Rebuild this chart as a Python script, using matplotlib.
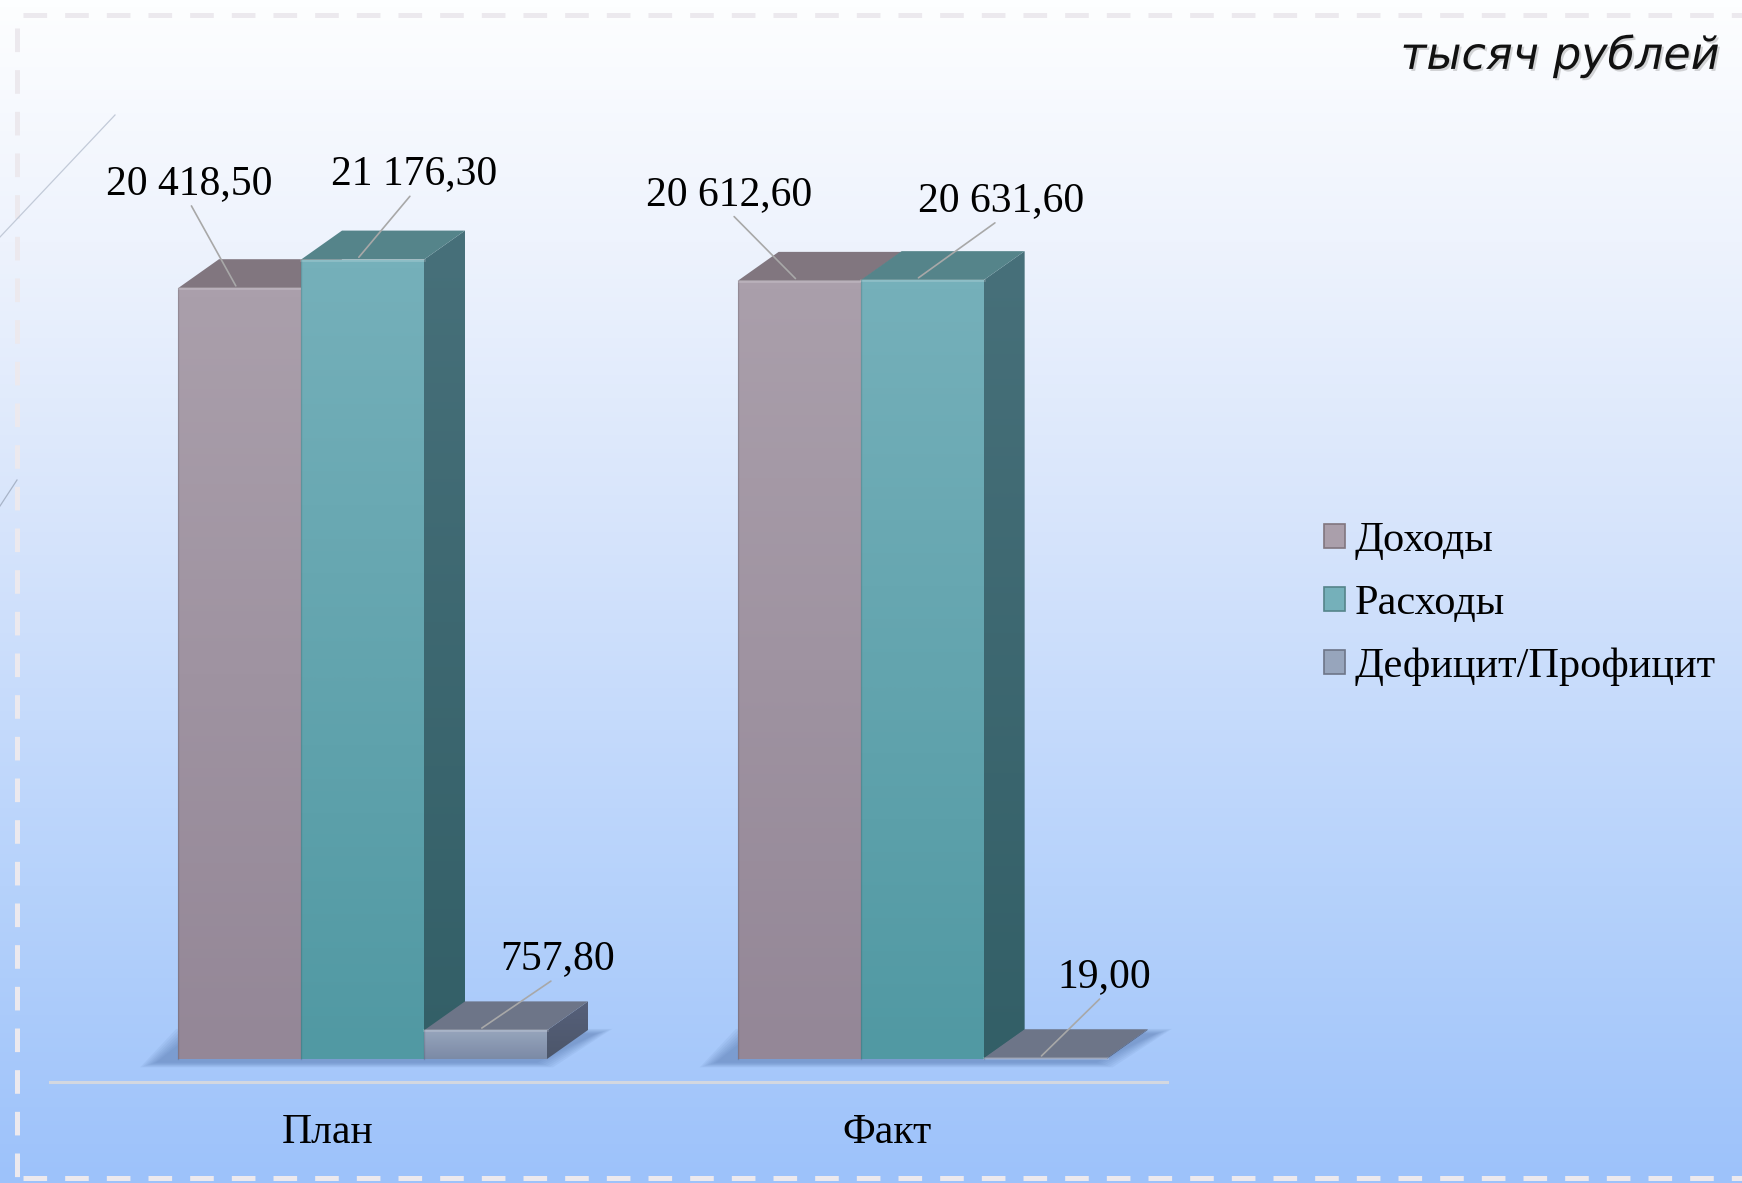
import matplotlib
matplotlib.use('Agg')
import matplotlib.pyplot as plt
import matplotlib.patheffects as pe
from matplotlib.patches import Polygon, Patch
from matplotlib.lines import Line2D
from matplotlib.colors import LinearSegmentedColormap
import numpy as np

# data (тысяч рублей)
categories = ['План', 'Факт']
series_names = ['Доходы', 'Расходы', 'Дефицит/Профицит']
dohody = [20418.50, 20612.60]
rashody = [21176.30, 20631.60]
deficit = [757.80, 19.00]
unit_label = 'тысяч рублей'

plt.rcParams['font.family'] = ['Liberation Serif', 'DejaVu Serif']
plt.rcParams['lines.scale_dashes'] = False

W, H = 1742, 1183
fig = plt.figure(figsize=(W / 100, H / 100), dpi=100)

# background gradient
bg = fig.add_axes([0, 0, 1, 1])
bg.axis('off')
bg_cmap = LinearSegmentedColormap.from_list(
    'bg', [(0, '#9dc2fa'), (0.25, '#b6d2fb'), (0.55, '#d6e4fb'), (0.8, '#eef3fd'), (1, '#fdfeff')])
bg.imshow(np.linspace(0, 1, 256).reshape(-1, 1), cmap=bg_cmap, origin='lower',
          extent=[0, 1, 0, 1], aspect='auto', interpolation='bilinear')
bg.set_xlim(0, 1)
bg.set_ylim(0, 1)

# main axes, scaled so one x unit = one bar width
BAR_PX = 123.0
X0_PX = 178.0
BASE_PX = 1059.0
PX_PER_VAL = 0.03775
GROUP_STEP = 4.55
DX = 41 / BAR_PX
DY = 29 / PX_PER_VAL

ax = fig.add_axes([0, 0, 1, 1])
ax.set_facecolor('none')
ax.axis('off')
ax.set_autoscale_on(False)
ax.set_xlim(-X0_PX / BAR_PX, (W - X0_PX) / BAR_PX)
ax.set_ylim(-(H - BASE_PX) / PX_PER_VAL, BASE_PX / PX_PER_VAL)

styles = [
    # front top, front bottom, top face, side top, side bottom
    dict(ft='#aa9fab', fb='#948797', top='#81767f', st='#6e6470', sb='#5f5562'),
    dict(ft='#75b0ba', fb='#5199a3', top='#55848a', st='#47707a', sb='#335f67'),
    dict(ft='#97a5bc', fb='#7b8aa6', top='#6d7588', st='#56607a', sb='#4c566a'),
]

z = [3]


def grad_fill(verts, c_top, c_bot):
    poly = Polygon(verts, closed=True, facecolor='none', edgecolor='none')
    ax.add_patch(poly)
    xs = [v[0] for v in verts]
    ys = [v[1] for v in verts]
    cmap = LinearSegmentedColormap.from_list('f', [c_bot, c_top])
    im = ax.imshow(np.linspace(0, 1, 64).reshape(-1, 1), cmap=cmap, origin='lower',
                   extent=[min(xs), max(xs), min(ys), max(ys)], aspect='auto',
                   interpolation='bilinear', zorder=z[0])
    im.set_clip_path(poly)
    z[0] += 1


def draw_box(x, h, st):
    front = [(x, 0), (x + 1, 0), (x + 1, h), (x, h)]
    top = [(x, h), (x + 1, h), (x + 1 + DX, h + DY), (x + DX, h + DY)]
    side = [(x + 1, 0), (x + 1 + DX, DY), (x + 1 + DX, h + DY), (x + 1, h)]
    grad_fill(side, st['st'], st['sb'])
    ax.add_patch(Polygon(top, closed=True, facecolor=st['top'], edgecolor='none', zorder=z[0]))
    z[0] += 1
    grad_fill(front, st['ft'], st['fb'])
    ax.add_line(Line2D([x, x + 1], [h, h], color='white', alpha=0.18, lw=2, zorder=z[0]))
    ax.add_line(Line2D([x, x], [0, h], color='black', alpha=0.12, lw=1, zorder=z[0]))
    z[0] += 1


values = [dohody, rashody, deficit]
label_offsets = [
    [(-47, 102), (55, 83), (76, 69)],
    [(-66, 84), (83, 77), (63, 79)],
]

for gi, cat in enumerate(categories):
    gx = gi * GROUP_STEP
    # soft floor shadow
    for k in range(7):
        e = (7 - k) * 2.6
        sx = e / BAR_PX
        sy = (e * 0.3) / PX_PER_VAL
        shp = [(gx - 0.16 - sx, -0.1 * DY - sy), (gx + 2.9 + sx, -0.1 * DY - sy),
               (gx + 3 + DX + 0.05 + sx, 0.85 * DY + sy), (gx + DX - 0.2 - sx, 0.85 * DY + sy)]
        ax.add_patch(Polygon(shp, closed=True, facecolor='#4a6aa0', edgecolor='none',
                             alpha=0.08, zorder=2))
    for si in range(3):
        draw_box(gx + si, values[si][gi], styles[si])
    for si in range(3):
        v = values[si][gi]
        txt = f'{v:,.2f}'.replace(',', ' ').replace('.', ',')
        ax.annotate(txt, xy=(gx + si + 0.47, v + 0.08 * DY), xycoords='data',
                    xytext=label_offsets[gi][si], textcoords='offset pixels',
                    ha='center', va='center', fontsize=30, color='black', zorder=50,
                    arrowprops=dict(arrowstyle='-', color='#a8a8a8', lw=1.2,
                                    shrinkA=0, shrinkB=0, relpos=(0.5, 0.05)))
    ax.annotate(cat, xy=(gx + 1.5, 0), xycoords='data', xytext=(-35, -74),
                textcoords='offset pixels', ha='center', va='center', fontsize=30,
                zorder=50)

# category axis line
axis_y = -(1082 - BASE_PX) / PX_PER_VAL
ax.add_line(Line2D([-1.04, GROUP_STEP + 3 + 0.49], [axis_y, axis_y], color='#d3d8e0',
                   lw=2.2, zorder=2))

# legend
handles = [Patch(facecolor=s['ft'], edgecolor=s['top'], lw=1.2) for s in styles]
fig.legend(handles, series_names, loc='center left', bbox_to_anchor=(1324 / W, 1 - 604 / H),
           frameon=False, fontsize=30.5, handlelength=0.5, handleheight=0.5,
           handletextpad=0.22, labelspacing=0.58, borderpad=0, borderaxespad=0)

# unit label with soft shadow
fig.text(1720 / W, 1 - 56 / H, unit_label, ha='right', va='center', fontsize=32,
         style='italic', family='DejaVu Sans', color='#111111',
         path_effects=[pe.withSimplePatchShadow(offset=(1.5, -1.5), shadow_rgbFace='#777777', alpha=0.3)])

# template decoration: dashed frame and thin diagonals
dash_kw = dict(color='#ece9ee', lw=3.6, dashes=(17, 13), transform=None)
fig.add_artist(Line2D([23, W], [H - 15, H - 15], **dash_kw))
fig.add_artist(Line2D([17, 17], [H - 28, H - 1178], **dash_kw))
fig.add_artist(Line2D([23, W], [H - 1178, H - 1178], **dash_kw))
fig.add_artist(Line2D([0, 115], [H - 237, H - 115], color='#c2cad8', lw=0.9, transform=None))
fig.add_artist(Line2D([0, 17], [H - 506, H - 480], color='#a8b4c8', lw=0.9, transform=None))

fig.savefig('out.png', dpi=100)
